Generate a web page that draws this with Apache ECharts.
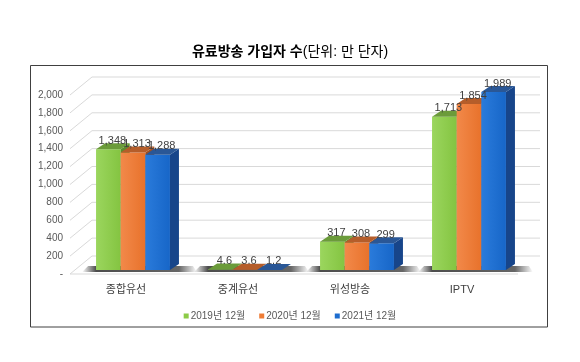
<!DOCTYPE html>
<html><head><meta charset="utf-8">
<script src="https://cdn.jsdelivr.net/npm/echarts@6/dist/echarts.min.js"></script>
<style>html,body{margin:0;padding:0;background:#fff}#c{width:580px;height:362px}</style>
</head><body><div id="c"></div><script>
const categories = ['종합유선', '중계유선', '위성방송', 'IPTV'];
const seriesNames = ['2019년 12월', '2020년 12월', '2021년 12월'];
const v2019 = [1348, 4.6, 317, 1713];
const v2020 = [1313, 3.6, 308, 1854];
const v2021 = [1288, 1.2, 299, 1989];
const yTicks = [0, 200, 400, 600, 800, 1000, 1200, 1400, 1600, 1800, 2000];

const FONT = '"Liberation Sans", "Noto Sans CJK KR", sans-serif';
const palettes = [
  {front: ['#9BD65E', '#84C441'], top: '#6B9B3A', side: '#5C8A2E', legend: '#8CCB47'},
  {front: ['#F2894A', '#E8722B'], top: '#B55D2A', side: '#A24E1E', legend: '#EE7C35'},
  {front: ['#2A7BDB', '#1766C8'], top: '#2A5796', side: '#17458A', legend: '#1D6DCF'}
];
const DX = 7, DY = -4, DEP_X = 9, DEP_Y = -6;

function fmt(v) {
  return Number.isInteger(v) ? v.toLocaleString('en-US') : String(v);
}

function geom(si, api) {
  const ci = api.value(0), val = api.value(1);
  const band = api.size([1, 0])[0];
  const bw = band * 0.22;
  const base = api.coord([ci, 0]);
  const top = api.coord([ci, val]);
  const cx = base[0] + DX + (si - 1) * bw;
  return {val, bw, cx, x0: cx - bw / 2, x1: cx + bw / 2, yb: base[1] + DY, yt: top[1] + DY};
}

function makeBar(si) {
  const pal = palettes[si];
  return function (params, api) {
    const g = geom(si, api);
    const {bw, x0, x1, yb, yt} = g;
    const children = [];
    if (si === 0) {
      const L = x0, R = x0 + 3 * bw + DEP_X;
      const W = R + 18 - (L - 14);
      children.push({
        type: 'polygon',
        shape: {points: [[L - 14, yb + 2], [R + 18, yb + 2], [R + 14, yb - 4], [L - 8, yb - 4]]},
        style: {fill: new echarts.graphic.LinearGradient(0, 0, 1, 0, [
          {offset: 0, color: 'rgba(0,0,0,0)'},
          {offset: 14 / W, color: 'rgba(0,0,0,0.7)'},
          {offset: 1 - 18 / W, color: 'rgba(0,0,0,0.6)'},
          {offset: 1, color: 'rgba(0,0,0,0)'}])}
      });
    }
    children.push({
      type: 'rect',
      shape: {x: x0, y: yt, width: bw, height: Math.max(yb - yt, 0)},
      style: {fill: new echarts.graphic.LinearGradient(0, 0, 1, 0, [
        {offset: 0, color: pal.front[0]}, {offset: 1, color: pal.front[1]}])}
    });
    children.push({
      type: 'polygon',
      shape: {points: [[x1, yt], [x1 + DEP_X, yt + DEP_Y], [x1 + DEP_X, yb + DEP_Y], [x1, yb]]},
      style: {fill: pal.side}
    });
    children.push({
      type: 'polygon',
      shape: {points: [[x0, yt], [x1, yt], [x1 + DEP_X, yt + DEP_Y], [x0 + DEP_X, yt + DEP_Y]]},
      style: {fill: pal.top}
    });
    return {type: 'group', children: children};
  };
}

function labelRender(params, api) {
  const si = api.value(2);
  const g = geom(si, api);
  return {
    type: 'text', x: g.cx + 4, y: g.yt - 3,
    style: {text: fmt(g.val), fill: '#404040', font: '11px ' + FONT, align: 'center', verticalAlign: 'bottom'}
  };
}

function gridRender(params, api) {
  const v = api.value(1);
  const p = api.coord([0, v]);
  const cs = params.coordSys;
  const x0 = cs.x, y = p[1];
  const ch = [{
    type: 'polyline',
    shape: {points: [[x0, y], [x0 + 22, y - 18], [x0 + 470, y - 18]]},
    style: {stroke: '#d9d9d9', lineWidth: 1, fill: null}
  }];
  if (v === 0) {
    ch.push({type: 'line', shape: {x1: x0, y1: y, x2: x0 + cs.width, y2: y},
      style: {stroke: '#d9d9d9', lineWidth: 1}});
  }
  return {type: 'group', children: ch};
}

const valueSets = [v2019, v2020, v2021];
const series = [{
  type: 'custom', name: 'grid', silent: true, z: 1,
  renderItem: gridRender,
  data: yTicks.map(v => [0, v])
}];
seriesNames.forEach((n, si) => {
  series.push({
    type: 'custom', name: n, z: 2 + si,
    itemStyle: {color: palettes[si].legend},
    renderItem: makeBar(si),
    data: valueSets[si].map((v, i) => [i, v])
  });
});
const labelData = [];
valueSets.forEach((arr, si) => arr.forEach((v, i) => labelData.push([i, v, si])));
series.push({
  type: 'custom', name: 'labels', silent: true, z: 10,
  renderItem: labelRender, data: labelData
});

const chart = echarts.init(document.getElementById('c'));
chart.setOption({
  animation: false,
  backgroundColor: '#fff',
  title: {
    text: '{b|유료방송 가입자 수}{n|(단위: 만 단자)}',
    left: 'center', top: 40,
    textStyle: {
      rich: {
        b: {fontSize: 14, fontWeight: 'bold', color: '#000', fontFamily: FONT},
        n: {fontSize: 14, fontWeight: 'normal', color: '#000', fontFamily: FONT}
      }
    }
  },
  graphic: [{
    type: 'rect', z: 0,
    shape: {x: 30.5, y: 65.5, width: 517, height: 261.5},
    style: {fill: 'none', stroke: '#404040', lineWidth: 1}
  }],
  legend: {
    data: seriesNames,
    left: 'center', top: 306,
    icon: 'rect', itemWidth: 5, itemHeight: 5, itemGap: 14,
    textStyle: {fontSize: 10, color: '#595959', fontFamily: FONT, padding: [0, 0, 0, -3]}
  },
  grid: {left: 70, width: 448, top: 95, bottom: 88, containLabel: false},
  xAxis: {
    type: 'category', data: categories,
    axisLine: {show: false}, axisTick: {show: false},
    axisLabel: {fontSize: 11, color: '#404040', margin: 10, fontFamily: FONT}
  },
  yAxis: {
    type: 'value', min: 0, max: 2000, interval: 200,
    axisLine: {show: false}, axisTick: {show: false}, splitLine: {show: false},
    axisLabel: {fontSize: 10, color: '#595959', margin: 7, fontFamily: FONT,
      formatter: v => v === 0 ? '-' : v.toLocaleString('en-US')}
  },
  series: series
});
</script></body></html>
